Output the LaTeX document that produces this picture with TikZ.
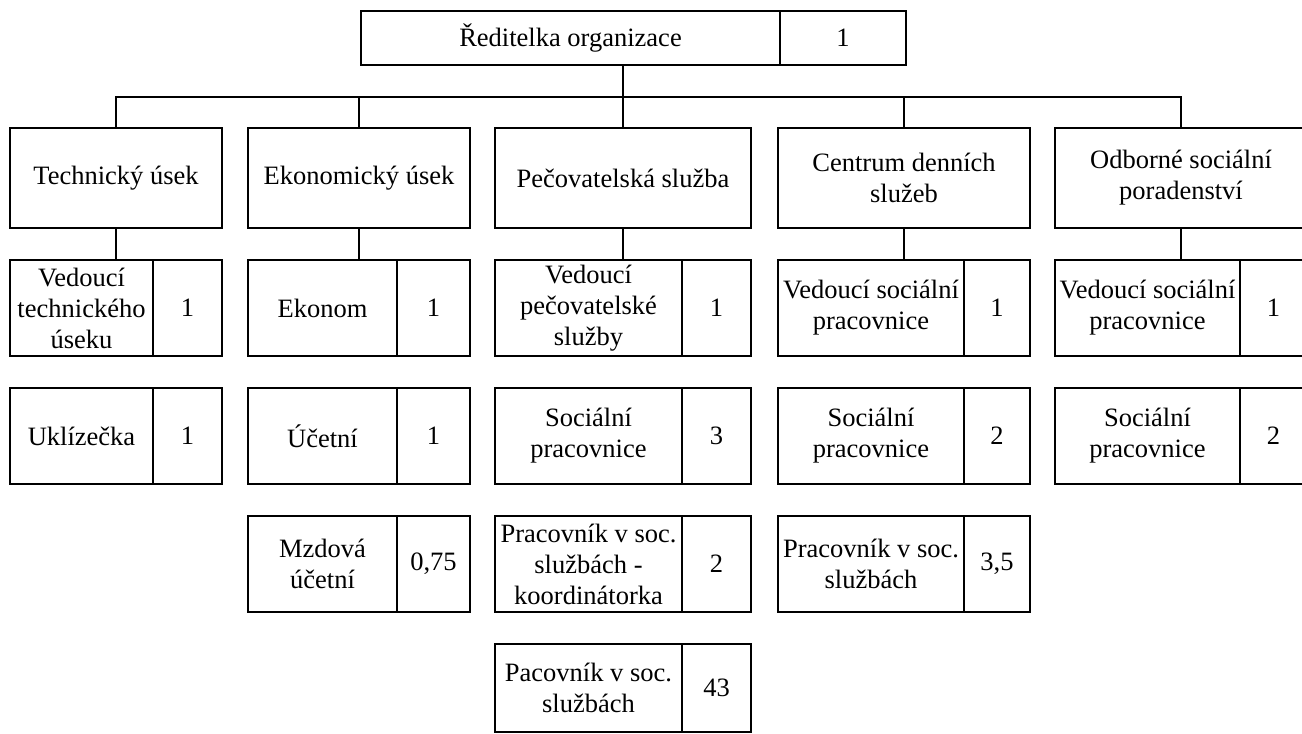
\documentclass[tikz,border=0pt]{standalone}
\usepackage{fontspec}
\setmainfont{LiberationSerif}[Extension=.ttf, UprightFont=*-Regular, BoldFont=*-Bold]
\usetikzlibrary{positioning}

\begin{document}
\begin{tikzpicture}[x=1pt, y=-1pt, line width=1.8pt,
    cell/.style={draw, align=center, inner sep=0pt, outer sep=0pt}]

  \fontsize{26.5}{31}\selectfont
  \useasboundingbox (0,0) rectangle (1302,734);

  %% one box = name cell + count cell: #1 name, #2 left, #3 divider, #4 right, #5 top, #6 bottom
  \newcommand\job[8]{%
    \node[cell, minimum width={#3pt-#2pt}, minimum height={#6pt-#5pt}] (#1) at ({(#2+#3)/2}, {(#5+#6)/2}) {#7};
    \node[cell, minimum width={#4pt-#3pt}, minimum height={#6pt-#5pt}, anchor=west] (#1n) at (#1.east) {#8};
  }

  \job{ref}{361}{780}{906}{11}{65}{Ředitelka organizace}{1}

  %% departments
  \node[cell, minimum width=212pt, minimum height=100pt] (tech) at (116, 178) {Technický úsek};
  \node[cell, minimum width=222pt, minimum height=100pt] (ekon) at (359, 178) {Ekonomický úsek};
  \node[cell, minimum width=256pt, minimum height=100pt] (pec) at (623, 178) {Pečovatelská služba};
  \node[cell, minimum width=252pt, minimum height=100pt] (cds) at (904, 178) {Centrum denních\\služeb};
  \node[cell, minimum width=252pt, minimum height=100pt] (osp) at (1181, 178) {Odborné sociální\\poradenství};

  %% staff
  \job{tech1}{10}{153}{222}{260}{356}{Vedoucí\\technického\\úseku}{1}
  \job{tech2}{10}{153}{222}{388}{484}{Uklízečka}{1}

  \job{ekon1}{248}{397}{470}{260}{356}{Ekonom}{1}
  \job{ekon2}{248}{397}{470}{388}{484}{Účetní}{1}
  \job{ekon3}{248}{397}{470}{516}{612}{Mzdová\\účetní}{0,75}

  \job{pec1}{495}{682}{751}{260}{356}{Vedoucí\\pečovatelské\\služby}{1}
  \job{pec2}{495}{682}{751}{388}{484}{Sociální\\pracovnice}{3}
  \job{pec3}{495}{682}{751}{516}{612}{Pracovník v soc.\\službách -\\koordinátorka}{2}
  \job{pec4}{495}{682}{751}{644}{732}{Pacovník v soc.\\službách}{43}

  \job{cds1}{778}{964}{1030}{260}{356}{Vedoucí sociální\\pracovnice}{1}
  \job{cds2}{778}{964}{1030}{388}{484}{Sociální\\pracovnice}{2}
  \job{cds3}{778}{964}{1030}{516}{612}{Pracovník v soc.\\službách}{3,5}

  \job{osp1}{1055}{1240}{1307}{260}{356}{Vedoucí sociální\\pracovnice}{1}
  \job{osp2}{1055}{1240}{1307}{388}{484}{Sociální\\pracovnice}{2}

  %% connectors
  \coordinate (bus) at (0, 97);
  \draw (pec.north |- ref.south) -- (pec.north |- bus);
  \draw (tech.north) |- (bus -| osp.north) -- (osp.north);
  \foreach \d in {ekon, pec, cds}
    \draw (\d.north) -- (\d.north |- bus);
  \foreach \d in {tech, ekon, pec, cds, osp}
    \draw (\d.south) -- (\d.south |- \d1.north);

\end{tikzpicture}
\end{document}
